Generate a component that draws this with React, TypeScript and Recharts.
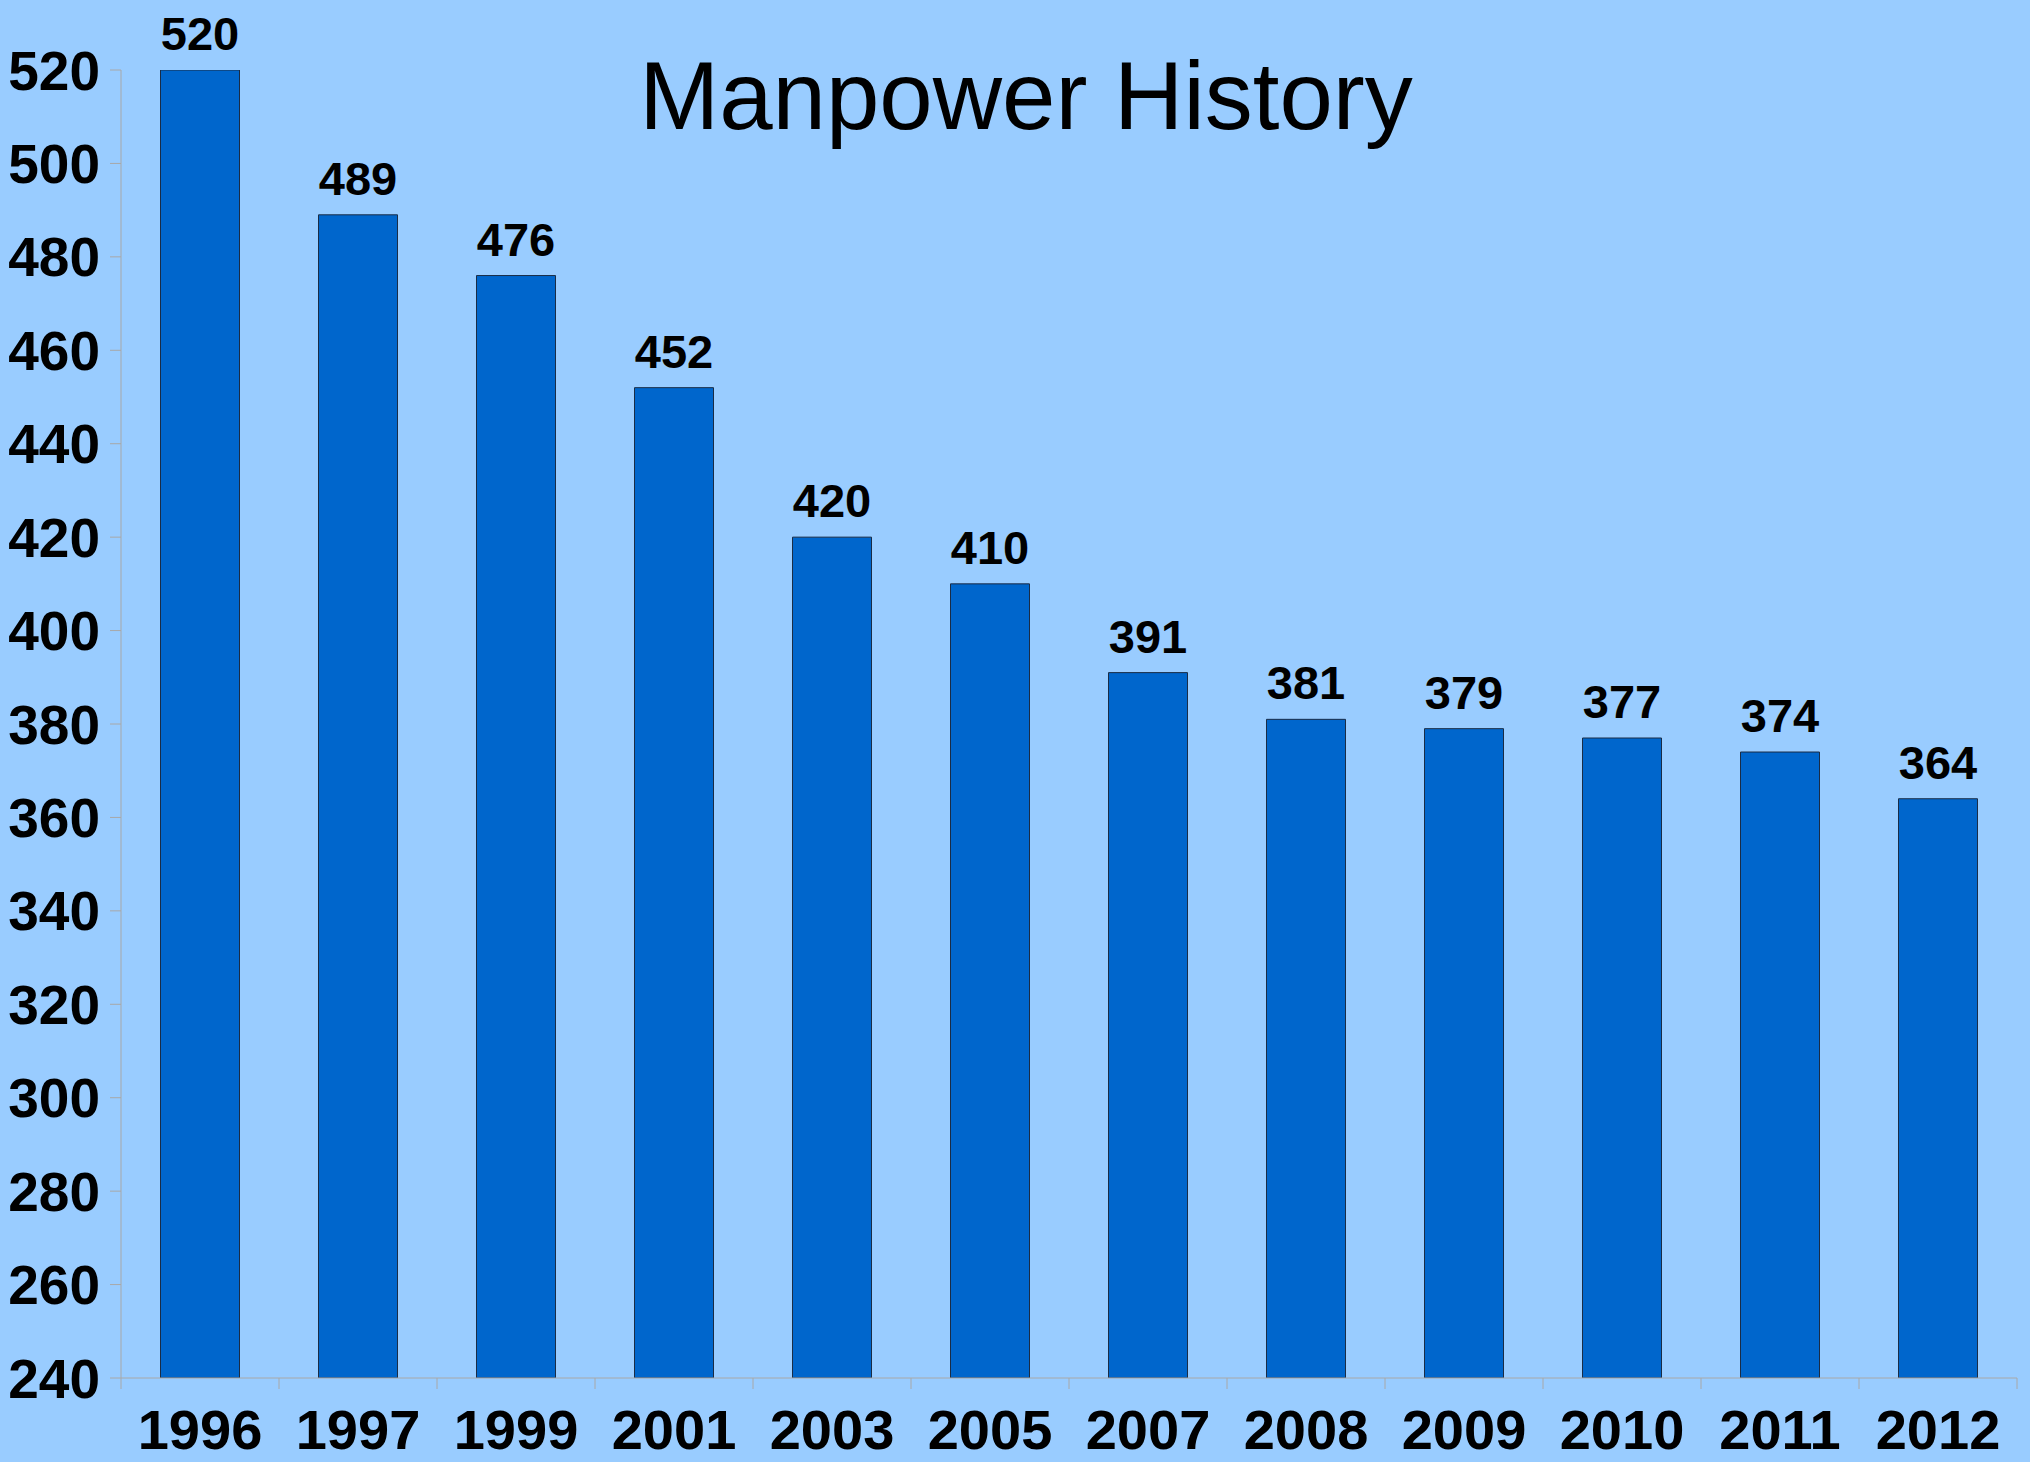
import { BarChart, Bar, XAxis, YAxis, LabelList } from "recharts";

const YEARS = ["1996", "1997", "1999", "2001", "2003", "2005", "2007", "2008", "2009", "2010", "2011", "2012"];
const STAFF = [520, 489, 476, 452, 420, 410, 391, 381, 379, 377, 374, 364];
const Y_TICKS = [240, 260, 280, 300, 320, 340, 360, 380, 400, 420, 440, 460, 480, 500, 520];

const data = YEARS.map((year, i) => ({ year, staff: STAFF[i] }));

const W = 2030;
const H = 1462;
const PLOT_LEFT = 121;
const PLOT_RIGHT = 2017;
const BAND = (PLOT_RIGHT - PLOT_LEFT) / YEARS.length;
const AXIS = "#a8a8a8";
const FONT = "'Liberation Sans', Arial, sans-serif";

// ticks sit on the category boundaries, labels in the middle
// eslint-disable-next-line @typescript-eslint/no-explicit-any
function YearTick({ x, y, payload, index }: any) {
  const left = x - BAND / 2;
  return (
    <g>
      <line x1={left} x2={left} y1={y} y2={y + 11} stroke={AXIS} />
      {index === YEARS.length - 1 && (
        <line x1={x + BAND / 2} x2={x + BAND / 2} y1={y} y2={y + 11} stroke={AXIS} />
      )}
      <text x={x} y={y + 71} textAnchor="middle" fill="#000" fontSize={56} fontWeight={700} fontFamily={FONT}>
        {payload.value}
      </text>
    </g>
  );
}

export default function App() {
  return (
    <div style={{ position: "absolute", left: 0, top: 0, width: W, height: H, background: "#99ccff" }}>
      {/* Title */}
      <div
        style={{
          position: "absolute",
          left: 0,
          top: 48,
          width: 2052,
          textAlign: "center",
          fontFamily: FONT,
          fontSize: 96,
          lineHeight: "96px",
          color: "#000",
        }}
      >
        Manpower History
      </div>

      <BarChart
        width={W}
        height={H}
        data={data}
        margin={{ top: 70, right: W - PLOT_RIGHT, left: 0, bottom: 0 }}
        barCategoryGap="25%"
      >
        <XAxis
          dataKey="year"
          height={84}
          interval={0}
          axisLine={{ stroke: AXIS }}
          tickLine={false}
          tickSize={0}
          tickMargin={0}
          tick={<YearTick />}
        />
        <YAxis
          width={PLOT_LEFT}
          domain={[240, 520]}
          ticks={Y_TICKS}
          interval={0}
          allowDataOverflow
          axisLine={{ stroke: AXIS }}
          tickLine={{ stroke: AXIS }}
          tickSize={11}
          tickMargin={10}
          tick={{ fill: "#000", fontSize: 55, fontWeight: 700, fontFamily: FONT }}
        />
        <Bar dataKey="staff" fill="#0066cc" stroke="#1a2c45" strokeWidth={1} isAnimationActive={false}>
          <LabelList
            dataKey="staff"
            position="top"
            offset={20}
            fill="#000"
            fontSize={47}
            fontWeight={700}
            fontFamily={FONT}
          />
        </Bar>
      </BarChart>
    </div>
  );
}
